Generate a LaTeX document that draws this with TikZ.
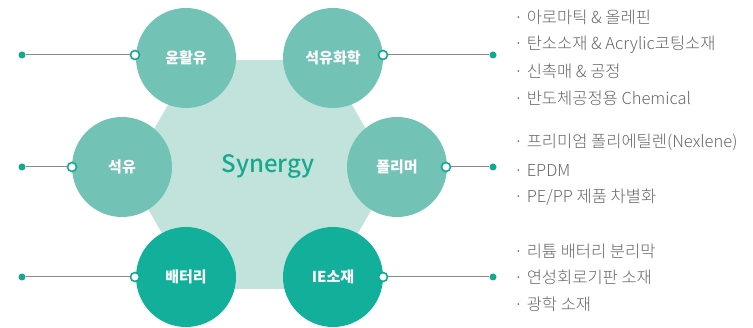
\documentclass[tikz,border=0pt]{standalone}
\usepackage{fontspec}
\setmainfont{Noto Sans CJK KR}
\newfontfamily\lightfont{Noto Sans CJK KR Light}
\newfontfamily\mediumfont{Noto Sans CJK KR Medium}
\usetikzlibrary{positioning}
\definecolor{hexfill}{HTML}{C2E3DC}
\definecolor{lightcirc}{HTML}{72C3B5}
\definecolor{darkcirc}{HTML}{12B09B}
\definecolor{synergy}{HTML}{18A88E}
\definecolor{ringcol}{HTML}{12A892}
\definecolor{linecol}{HTML}{8A8A8A}
\definecolor{listtext}{HTML}{666666}
\tikzset{
	field/.style={circle, minimum size=100pt, inner sep=0pt, text=white, font=\fontsize{15}{15}\selectfont\bfseries},
	ring/.style={circle, draw=ringcol, fill=white, line width=1.6pt, minimum size=9pt, inner sep=0pt},
	enddot/.style={circle, fill=ringcol, minimum size=7pt, inner sep=0pt},
	lead/.style={draw=linecol, line width=1pt},
	item/.style={anchor=west, text=listtext, font=\fontsize{16.5}{16.5}\lightfont, inner sep=0pt},
}
\begin{document}
\begin{tikzpicture}[x=1pt, y=-1pt]
	\useasboundingbox (0,0) rectangle (753,328);

	% hexagon
	\fill[hexfill] (128,174) -- (194,60) -- (326,60) -- (392,174) -- (326,289) -- (194,289) -- cycle;
	\node[text=synergy, font=\fontsize{24}{24}\mediumfont] (syn) at (268,166) {Synergy};

	% circles
	\node[field, fill=lightcirc] (lub) at (186,58) {윤활유};
	\node[field, fill=lightcirc] (petchem) at (333,58) {석유화학};
	\node[field, fill=lightcirc] (oil) at (122,167) {석유};
	\node[field, fill=lightcirc] (poly) at (397,167) {폴리머};
	\node[field, fill=darkcirc] (batt) at (186,277) {배터리};
	\node[field, fill=darkcirc] (iemat) at (333,277) {IE소재};

	% left side
	\node[ring] (lubring) at (135,55) {};
	\node[ring] (oilring) at (72,167) {};
	\node[ring] (battring) at (135,277) {};
	\node[enddot] (lubdot) at (22,55) {};
	\node[enddot] (oildot) at (22,167) {};
	\node[enddot] (battdot) at (22,277) {};
	\draw[lead] (lubdot) -- (lubring);
	\draw[lead] (oildot) -- (oilring);
	\draw[lead] (battdot) -- (battring);

	% right side
	\node[ring] (petring) at (383,55) {};
	\node[ring] (polyring) at (446,167) {};
	\node[ring] (iering) at (383,277) {};
	\node[enddot] (petdot) at (493,55) {};
	\node[enddot] (polydot) at (493,167) {};
	\node[enddot] (iedot) at (493,277) {};
	\draw[lead] (petring) -- (petdot);
	\draw[lead] (polyring) -- (polydot);
	\draw[lead] (iering) -- (iedot);

	% lists
	\node[item] (p1) at (514,17) {· 아로마틱 \& 올레핀};
	\node[item] (p2) at (514,45) {· 탄소소재 \& Acrylic코팅소재};
	\node[item] (p3) at (514,71) {· 신촉매 \& 공정};
	\node[item] (p4) at (514,98) {· 반도체공정용 Chemical};
	\node[item] (q1) at (514,142) {· 프리미엄 폴리에틸렌(Nexlene)};
	\node[item] (q2) at (514,170) {· EPDM};
	\node[item] (q3) at (514,197) {· PE/PP 제품 차별화};
	\node[item] (r1) at (514,251) {· 리튬 배터리 분리막};
	\node[item] (r2) at (514,277) {· 연성회로기판 소재};
	\node[item] (r3) at (514,304) {· 광학 소재};
\end{tikzpicture}
\end{document}
